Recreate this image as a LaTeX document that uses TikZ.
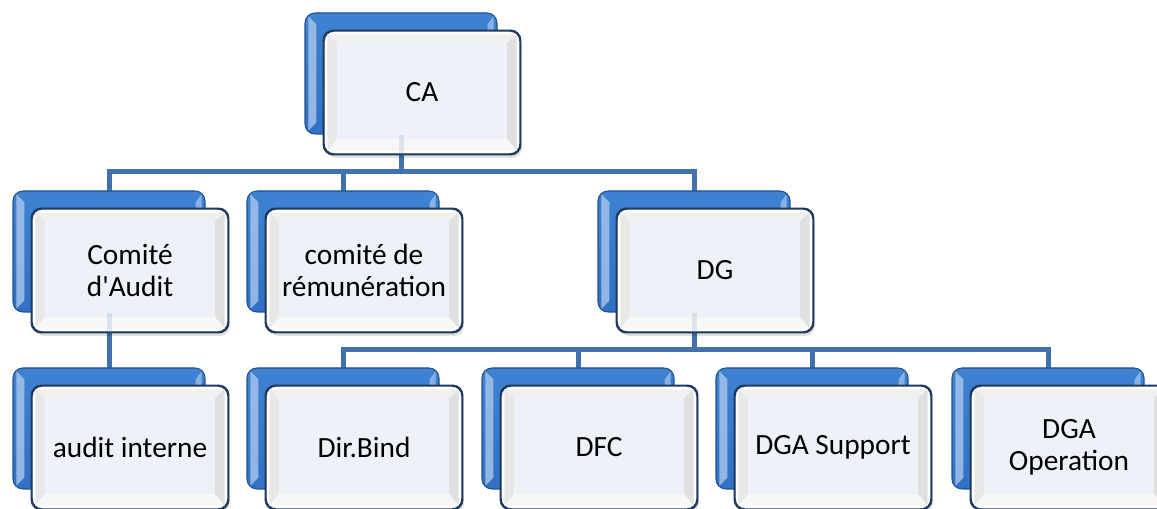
\documentclass[tikz,border=0pt]{standalone}
\usepackage{fontspec}
\setmainfont{Carlito}
\usetikzlibrary{calc}
\definecolor{connc}{HTML}{4272AE}
\definecolor{backc}{HTML}{3A7CCB}
\definecolor{backtop}{HTML}{3F82D2}
\definecolor{backbot}{HTML}{3170C2}
\definecolor{backedge}{HTML}{21528F}
\definecolor{frontedge}{HTML}{1E3A5E}
\definecolor{panel}{HTML}{EEF1F7}
\tikzset{
  conn/.style={draw=connc, line width=3.75pt},
  backbox/.style={rounded corners=7.5pt, minimum width=144pt, minimum height=90.75pt,
     inner sep=0pt, draw=backedge, line width=0.8pt, top color=backtop, bottom color=backbot},
  frontbox/.style={rounded corners=7.5pt, minimum width=147pt, minimum height=92.25pt,
     inner sep=0pt, draw=frontedge, line width=1.1pt, fill=white},
  lbl/.style={align=center, font=\fontsize{22pt}{24pt}\selectfont, text=black},
}
\newcommand\orgbox[4]{%
  \node[backbox] (#1-b) at (#2+96,#3+60.5) {};
  \fill[white!55!backtop, opacity=0.8] ($(#1-b.north west)+(4,4)$) -- ($(#1-b.north west)+(12,12)$) -- ($(#1-b.south west)+(12,-12)$) -- ($(#1-b.south west)+(4,-4)$) -- cycle;
  \fill[white!55!backtop, opacity=0.7] ($(#1-b.north east)+(-4,4)$) -- ($(#1-b.north east)+(-10,12)$) -- ($(#1-b.north east)+(-10,20)$) -- ($(#1-b.north east)+(-4,20)$) -- cycle;
  \fill[black, opacity=0.12, rounded corners=7.5pt] ($(#2+19,#3+18)+(2,4)$) rectangle ++(196,123);
  \node[frontbox] (#1) at (#2+19+98,#3+18+61.5) {};
  \fill[white!94!black] ($(#1.north west)+(4,4)$) -- ($(#1.north east)+(-4,4)$) -- ($(#1.north east)+(-14,13)$) -- ($(#1.north west)+(14,13)$) -- cycle;
  \fill[white!91!black] ($(#1.north west)+(4,4)$) -- ($(#1.north west)+(14,13)$) -- ($(#1.south west)+(14,-16)$) -- ($(#1.south west)+(4,-4)$) -- cycle;
  \fill[white!88!black] ($(#1.north east)+(-4,4)$) -- ($(#1.north east)+(-14,13)$) -- ($(#1.south east)+(-14,-16)$) -- ($(#1.south east)+(-4,-4)$) -- cycle;
  \fill[white!97!black] ($(#1.south west)+(4,-4)$) -- ($(#1.south west)+(14,-16)$) -- ($(#1.south east)+(-14,-16)$) -- ($(#1.south east)+(-4,-4)$) -- cycle;
  \fill[panel] ($(#1.north west)+(14,13)$) rectangle ($(#1.south east)+(-14,-16)$);
  \draw[frontedge, line width=1.1pt, rounded corners=7.5pt] (#1.north west) rectangle (#1.south east);
  \node[lbl] at (#1) {#4};
}
\begin{document}
\begin{tikzpicture}[x=0.75pt, y=-0.75pt]
\useasboundingbox (0,0) rectangle (1157,509);
\clip (0,0) rectangle (1157,509);
\fill[white] (0,0) rectangle (1157,509);
% bus coordinates
\coordinate (bus1) at (0,172);
\coordinate (bus2) at (0,350);
% back-box centres used by connectors
\coordinate (ca-c) at (305+96,13+60.5);
\coordinate (aud-c) at (13+96,191+60.5);
\coordinate (rem-c) at (247+96,191+60.5);
\coordinate (dg-c) at (598+96,191+60.5);
\coordinate (ai-c) at (13+96,368+60.5);
\coordinate (dir-c) at (247+96,368+60.5);
\coordinate (dfc-c) at (482+96,368+60.5);
\coordinate (dgas-c) at (716+96,368+60.5);
\coordinate (dgao-c) at (952+96,368+60.5);
% connectors
\draw[conn] (ca-c) -- (ca-c |- bus1) -| (aud-c);
\draw[conn] (ca-c) -- (ca-c |- bus1) -| (rem-c);
\draw[conn] (ca-c) -- (ca-c |- bus1) -| (dg-c);
\draw[conn] (aud-c) -- (ai-c);
\draw[conn] (dg-c) -- (dg-c |- bus2) -| (dir-c);
\draw[conn] (dg-c) -- (dg-c |- bus2) -| (dfc-c);
\draw[conn] (dg-c) -- (dg-c |- bus2) -| (dgas-c);
\draw[conn] (dg-c) -- (dg-c |- bus2) -| (dgao-c);
% boxes
\orgbox{ca}{305}{13}{CA}
\orgbox{aud}{13}{191}{Comité\\d\textquotesingle Audit}
\orgbox{rem}{247}{191}{comité de\\rémunération}
\orgbox{dg}{598}{191}{DG}
\orgbox{ai}{13}{368}{audit interne}
\orgbox{dir}{247}{368}{Dir.Bind}
\orgbox{dfc}{482}{368}{DFC}
\orgbox{dgas}{716}{368}{DGA Support}
\orgbox{dgao}{952}{368}{DGA\\Operation}
% faint connector traces through the front boxes
\draw[conn, opacity=0.15] (ca-b.south) -- (ca-b.south |- ca.south);
\draw[conn, opacity=0.15] (aud-b.south) -- (aud-b.south |- aud.south);
\draw[conn, opacity=0.15] (dg-b.south) -- (dg-b.south |- dg.south);
\end{tikzpicture}
\end{document}
